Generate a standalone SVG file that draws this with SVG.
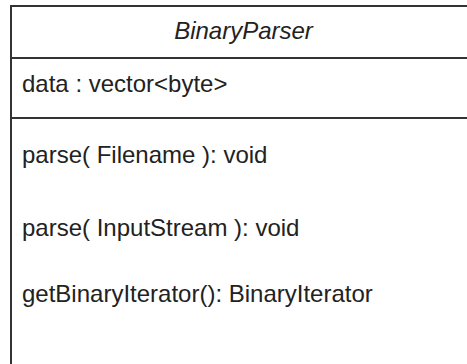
<svg xmlns="http://www.w3.org/2000/svg" width="467" height="364" viewBox="0 0 467 364">
<style>
.t{font-family:"Liberation Sans",Arial,sans-serif;font-size:24px;fill:#222}
.ln{stroke:#333;stroke-width:2;fill:none}
</style>
<rect width="467" height="364" fill="#fff"/>
<g id="BinaryParser">
<rect x="11" y="6" width="470" height="370" fill="#fff" class="ln"/>
<line x1="11" y1="58" x2="481" y2="58" class="ln"/>
<line x1="11" y1="118" x2="481" y2="118" class="ln"/>
<text x="243.5" y="39" class="t" text-anchor="middle" font-style="italic">BinaryParser</text>
<text x="22" y="92" class="t">data : vector&lt;byte&gt;</text>
<text x="22" y="163" class="t">parse( Filename ): void</text>
<text x="22" y="236" class="t">parse( InputStream ): void</text>
<text x="22" y="302" class="t">getBinaryIterator(): BinaryIterator</text>
</g>
</svg>
